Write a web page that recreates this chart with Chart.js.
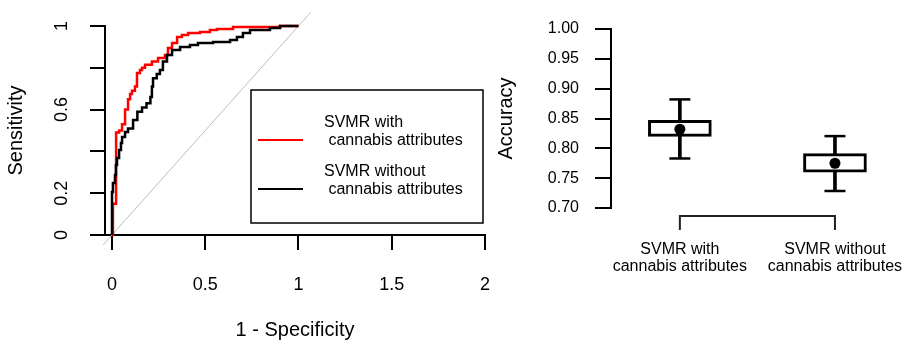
<!DOCTYPE html>
<html>
<head>
<meta charset="utf-8">
<script src="https://cdn.jsdelivr.net/npm/chart.js@4.4.0/dist/chart.umd.min.js"></script>
<style>
    html, body { margin: 0; padding: 0; background: #fff; }
    body { width: 910px; height: 342px; position: relative; overflow: hidden; }
    #graficoRoc { position: absolute; left: 0; top: 0; }
    #graficoAcc { position: absolute; left: 470px; top: 0; }
</style>
</head>
<body>
<canvas id="graficoRoc" width="500" height="342"></canvas>
<canvas id="graficoAcc" width="440" height="342"></canvas>
<script>
// ROC curves: at each x (1 - specificity) the curve rises to y (sensitivity)
const rocWithX = [0, 0.005, 0.022, 0.038, 0.054, 0.070, 0.086, 0.097, 0.107, 0.123, 0.134, 0.150, 0.161, 0.177, 0.214, 0.247, 0.284, 0.300, 0.322, 0.349, 0.375, 0.408, 0.472, 0.525, 0.563, 0.649, 0.901, 1];
const rocWithY = [0, 0.150, 0.490, 0.500, 0.530, 0.600, 0.650, 0.675, 0.690, 0.710, 0.775, 0.790, 0.800, 0.815, 0.830, 0.847, 0.861, 0.895, 0.919, 0.947, 0.957, 0.967, 0.971, 0.981, 0.986, 0.995, 1.000, 1];
const rocWithoutX = [0, 0, 0.005, 0.016, 0.021, 0.027, 0.038, 0.048, 0.054, 0.070, 0.086, 0.113, 0.136, 0.161, 0.185, 0.206, 0.214, 0.220, 0.240, 0.257, 0.273, 0.295, 0.322, 0.365, 0.418, 0.461, 0.542, 0.633, 0.670, 0.702, 0.740, 0.847, 0.901, 1];
const rocWithoutY = [0, 0.206, 0.249, 0.287, 0.335, 0.368, 0.407, 0.440, 0.469, 0.493, 0.510, 0.550, 0.590, 0.610, 0.630, 0.660, 0.710, 0.750, 0.770, 0.790, 0.830, 0.861, 0.885, 0.900, 0.909, 0.919, 0.923, 0.933, 0.947, 0.967, 0.981, 0.990, 1.000, 1];
const diagLine = [-0.048, 1.065];
const rocXTicks = [0, 0.5, 1, 1.5, 2];
const rocYTicks = [0, 0.2, 0.4, 0.6, 0.8, 1];
const rocYLabels = ['0', '0.2', '', '0.6', '', '1'];
const legendLabels = [['SVMR with', ' cannabis attributes'], ['SVMR without', ' cannabis attributes']];

// box plot of accuracy
const categories = [['SVMR with', 'cannabis attributes'], ['SVMR without', 'cannabis attributes']];
const catPos = [1, 2];
const accMin = [0.783, 0.7285];
const accQ1 = [0.820, 0.760];
const accMean = [0.832, 0.775];
const accQ3 = [0.847, 0.791];
const accMax = [0.882, 0.8205];
const accTicks = [0.70, 0.75, 0.80, 0.85, 0.90, 0.95, 1.00];

Chart.defaults.font.family = "'Liberation Sans', Arial, sans-serif";
Chart.defaults.color = '#000';

const toPoints = (xs, ys) => xs.map((x, i) => ({ x: x, y: ys[i] }));

const legendaRoc = {
    id: 'legendaRoc',
    afterDraw(chart) {
        const ctx = chart.ctx;
        const ca = chart.chartArea;
        const left = ca.left + 146, top = ca.top + 64, w = 232, h = 133;
        const colori = ['#ff0000', '#000000'];
        ctx.save();
        ctx.strokeStyle = '#000';
        ctx.lineWidth = 1.5;
        ctx.strokeRect(left, top, w, h);
        ctx.font = "16px 'Liberation Sans', Arial, sans-serif";
        ctx.fillStyle = '#000';
        ctx.textBaseline = 'middle';
        legendLabels.forEach((righe, i) => {
            const yLine = top + 50 + i * 49;
            ctx.strokeStyle = colori[i];
            ctx.lineWidth = 2;
            ctx.beginPath();
            ctx.moveTo(left + 7, yLine);
            ctx.lineTo(left + 52, yLine);
            ctx.stroke();
            ctx.fillText(righe[0], left + 73, yLine - 17);
            ctx.fillText(righe[1], left + 73, yLine + 1);
        });
        ctx.restore();
    }
};

new Chart(document.getElementById('graficoRoc'), {
    type: 'scatter',
    data: {
        datasets: [{
            label: 'SVMR without cannabis attributes',
            data: toPoints(rocWithoutX, rocWithoutY),
            showLine: true,
            stepped: true,
            borderColor: '#000000',
            borderWidth: 2.5,
            pointRadius: 0,
            clip: 5,
            order: 0
        }, {
            label: 'SVMR with cannabis attributes',
            data: toPoints(rocWithX, rocWithY),
            showLine: true,
            stepped: true,
            borderColor: '#ff0000',
            borderWidth: 2.5,
            pointRadius: 0,
            clip: 5,
            order: 1
        }, {
            label: 'diagonal',
            data: toPoints(diagLine, diagLine),
            showLine: true,
            borderColor: '#bdbdbd',
            borderWidth: 1,
            pointRadius: 0,
            clip: false,
            order: 2
        }]
    },
    options: {
        responsive: false,
        animation: false,
        layout: { padding: { top: 26, right: 15, left: 0, bottom: 0 } },
        plugins: { legend: { display: false }, tooltip: { enabled: false } },
        scales: {
            x: {
                type: 'linear',
                min: -0.0375,
                max: 2,
                afterBuildTicks: s => { s.ticks = rocXTicks.map(v => ({ value: v })); },
                afterFit: s => { s.height = 107; s.paddingLeft = 0; s.paddingRight = 0; },
                ticks: {
                    font: { size: 18 },
                    padding: 24,
                    maxRotation: 0,
                    autoSkip: false,
                    callback: v => String(v)
                },
                grid: { drawOnChartArea: false, drawTicks: true, tickLength: 15, color: '#000', lineWidth: 2 },
                border: { display: true, color: '#000', width: 2 },
                title: { display: true, text: '1 - Specificity', font: { size: 20 }, padding: { top: 0, bottom: 0 } }
            },
            y: {
                min: 0,
                max: 1,
                afterBuildTicks: s => { s.ticks = rocYTicks.map(v => ({ value: v })); },
                afterFit: s => { s.width = 105; s.paddingTop = 0; s.paddingBottom = 0; },
                ticks: {
                    font: { size: 18 },
                    padding: 15,
                    minRotation: 90,
                    maxRotation: 90,
                    crossAlign: 'center',
                    autoSkip: false,
                    callback: (v, i) => rocYLabels[i]
                },
                grid: { drawOnChartArea: false, drawTicks: true, tickLength: 15, color: '#000', lineWidth: 2 },
                border: { display: true, color: '#000', width: 2 },
                title: { display: true, text: 'Sensitivity', font: { size: 20 }, padding: { top: 4, bottom: 0 } }
            }
        }
    },
    plugins: [legendaRoc]
});

const parentesiAsse = {
    id: 'parentesiAsse',
    afterDraw(chart) {
        const ctx = chart.ctx;
        const xs = chart.scales.x;
        const x1 = xs.getPixelForValue(catPos[0]);
        const x2 = xs.getPixelForValue(catPos[catPos.length - 1]);
        const y0 = chart.chartArea.bottom + 8;
        ctx.save();
        ctx.strokeStyle = '#222';
        ctx.lineWidth = 2;
        ctx.beginPath();
        ctx.moveTo(x1, y0 + 14);
        ctx.lineTo(x1, y0);
        ctx.lineTo(x2, y0);
        ctx.lineTo(x2, y0 + 14);
        ctx.stroke();
        ctx.restore();
    }
};

new Chart(document.getElementById('graficoAcc'), {
    type: 'bar',
    data: {
        datasets: [{
            type: 'scatter',
            label: 'mean',
            data: toPoints(catPos, accMean),
            pointStyle: 'circle',
            pointRadius: 5.5,
            backgroundColor: '#000',
            borderColor: '#000',
            borderWidth: 0,
            order: 0
        }, {
            type: 'scatter',
            label: 'caps',
            data: catPos.flatMap((x, i) => [{ x: x, y: accMin[i] }, { x: x, y: accMax[i] }]),
            pointStyle: 'line',
            pointRadius: 10.5,
            borderColor: '#000',
            borderWidth: 2.5,
            order: 1
        }, {
            label: 'box',
            data: catPos.map((x, i) => ({ x: x, y: [accQ1[i], accQ3[i]] })),
            backgroundColor: '#fff',
            borderColor: '#000',
            borderWidth: 3,
            borderSkipped: false,
            barThickness: 63,
            grouped: false,
            order: 2
        }, {
            label: 'whisker',
            data: catPos.map((x, i) => ({ x: x, y: [accMin[i], accMax[i]] })),
            backgroundColor: '#000',
            borderWidth: 0,
            barThickness: 3,
            grouped: false,
            order: 3
        }]
    },
    options: {
        responsive: false,
        animation: false,
        layout: { padding: { top: 29, right: 4, left: 0, bottom: 0 } },
        plugins: { legend: { display: false }, tooltip: { enabled: false } },
        scales: {
            x: {
                type: 'linear',
                offset: false,
                min: 0.556,
                max: 2.4,
                afterBuildTicks: s => { s.ticks = catPos.map(v => ({ value: v })); },
                afterFit: s => { s.height = 134; s.paddingLeft = 0; s.paddingRight = 0; },
                ticks: {
                    font: { size: 16, lineHeight: 1.06 },
                    padding: 25,
                    maxRotation: 0,
                    autoSkip: false,
                    callback: (v, i) => categories[i]
                },
                grid: { display: false, offset: false },
                border: { display: false }
            },
            y: {
                min: 0.7,
                max: 1.0,
                afterBuildTicks: s => { s.ticks = accTicks.map(v => ({ value: v })); },
                afterFit: s => { s.width = 141; s.paddingTop = 0; s.paddingBottom = 0; },
                ticks: {
                    font: { size: 16 },
                    padding: 16,
                    autoSkip: false,
                    callback: v => v.toFixed(2)
                },
                grid: { drawOnChartArea: false, drawTicks: true, tickLength: 16, color: '#000', lineWidth: 2 },
                border: { display: true, color: '#000', width: 2 },
                title: { display: true, text: 'Accuracy', font: { size: 20 }, padding: { top: 24, bottom: 0 } }
            }
        }
    },
    plugins: [parentesiAsse]
});
</script>
</body>
</html>
